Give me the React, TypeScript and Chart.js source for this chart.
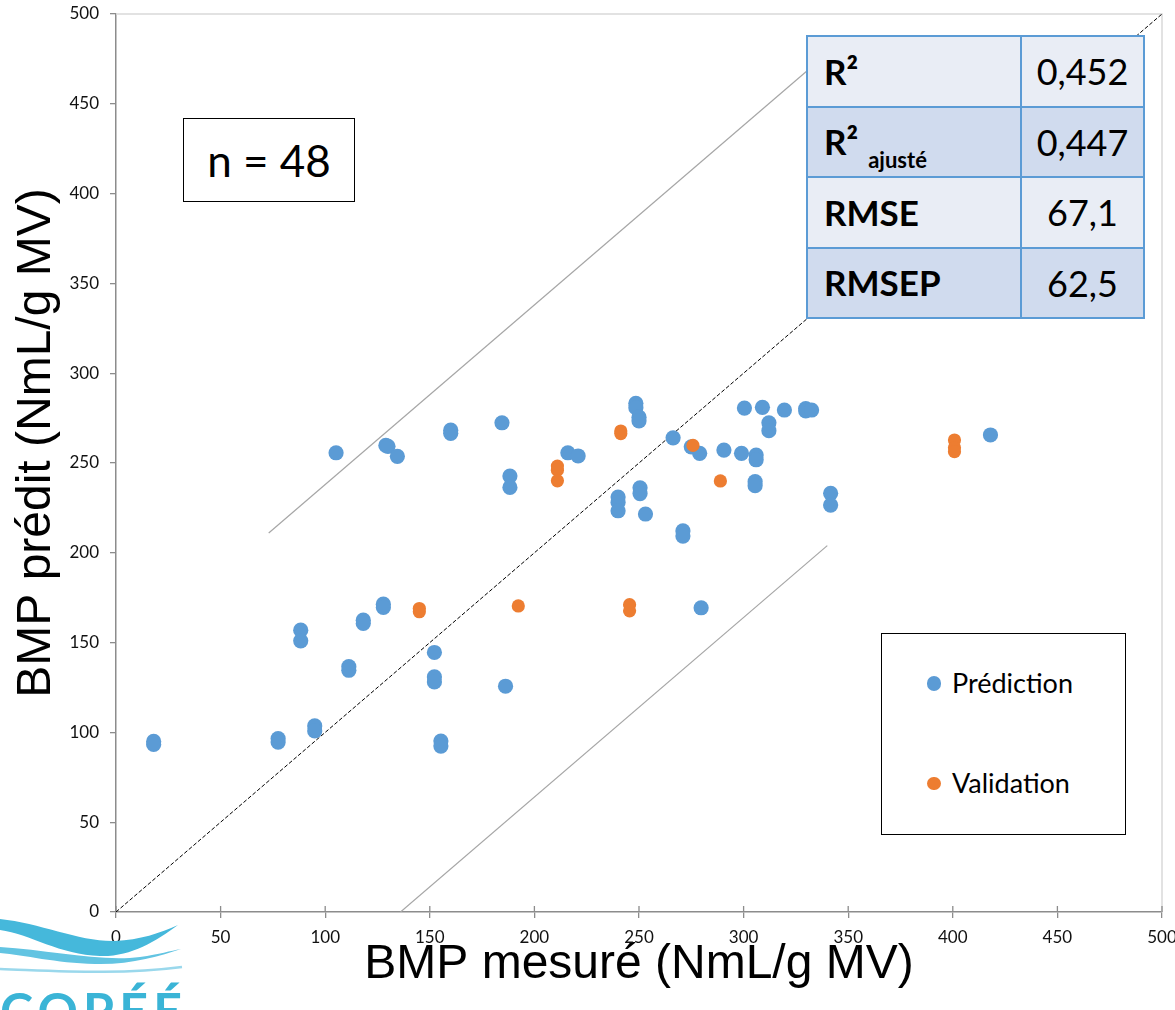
import React, { useEffect, useRef } from "react";
import { Chart, registerables } from "chart.js";

Chart.register(...registerables);

// ---------- data ----------
const xTitle = "BMP mesuré (NmL/g MV)";
const yTitle = "BMP prédit (NmL/g MV)";
const axisMin = 0;
const axisMax = 500;
const axisStep = 50;

const predictionLabel = "Prédiction";
const predictionX = [
  18, 18, 77.5, 77.5, 95, 95, 111.3, 111.3, 88.3, 88.3, 118.2, 118.2, 127.8, 127.8,
  152.2, 152.2, 152.2, 105.2, 129, 130, 134.5, 155.3, 155.3, 160, 160, 184.5, 188.3,
  188.3, 186.2, 216, 220.9, 240, 240, 240, 248.5, 248.5, 250, 250, 266.3, 275, 279,
  290.6, 299, 306, 306, 300.4, 309, 312.1, 312.1, 319.5, 329.7, 329.7, 332.5, 305.5,
  305.5, 250.5, 250.5, 253.1, 271, 271, 279.7, 418, 341.6, 341.6,
];
const predictionY = [
  95, 93.3, 96.6, 94.6, 103.6, 100.8, 136.6, 134.6, 156.9, 151, 162.5, 160.7, 171.4, 169.6,
  144.5, 130.9, 128.1, 255.7, 259.8, 259.3, 253.7, 95.2, 92.4, 268.3, 266.5, 272.4, 242.7,
  236.4, 125.7, 255.7, 253.9, 231, 228, 223.4, 283.2, 280.8, 275.5, 273.5, 264, 259, 255.4,
  257.2, 255.4, 254.4, 251.8, 280.6, 281, 272.4, 268, 279.5, 280.3, 279, 279.5, 239.6,
  237.4, 236.2, 233, 221.6, 212.2, 209.3, 169.4, 265.6, 233.1, 226.6,
];

const validationLabel = "Validation";
const validationX = [145, 145, 192.3, 211, 211, 211, 241.3, 241.3, 275.8, 245.5, 245.5, 288.9, 400.8, 400.8, 400.8];
const validationY = [169, 167.2, 170.4, 248.3, 246, 240.1, 267.8, 266.4, 259.8, 171.1, 167.7, 240, 262.8, 258.5, 256.3];

const identityX = [0, 500];
const identityY = [0, 500];
const upperBandX = [73, 340];
const upperBandY = [211, 478];
const lowerBandX = [136, 340];
const lowerBandY = [0, 204];

const statNames = ["R²", "R²", "RMSE", "RMSEP"];
const statSubscripts = ["", "ajusté", "", ""];
const statValues = ["0,452", "0,447", "67,1", "62,5"];
const sampleCount = 48;

// ---------- helpers ----------
const toPoints = (xs: number[], ys: number[]) => xs.map((x, i) => ({ x, y: ys[i] }));

const BLUE = "#5B9BD5";
const ORANGE = "#ED7D31";
const AXIS_GREY = "#8c8c8c";

const framePlugin = {
  id: "frame",
  beforeDatasetsDraw(chart: any) {
    const { ctx, chartArea } = chart;
    const { left, right, top, bottom } = chartArea;
    ctx.save();
    ctx.strokeStyle = "#d9d9d9";
    ctx.lineWidth = 1.5;
    ctx.beginPath();
    ctx.moveTo(left, top);
    ctx.lineTo(right, top);
    ctx.lineTo(right, bottom);
    ctx.stroke();
    // inner half of the crossing x tick marks
    const xs = chart.scales.x;
    ctx.strokeStyle = AXIS_GREY;
    ctx.lineWidth = 1.3;
    ctx.beginPath();
    xs.ticks.forEach((t: any) => {
      const px = xs.getPixelForValue(t.value);
      ctx.moveTo(px, bottom);
      ctx.lineTo(px, bottom - 6);
    });
    ctx.stroke();
    ctx.restore();
  },
  afterDraw(chart: any) {
    const { ctx } = chart;
    ctx.save();
    ctx.translate(37, 443);
    ctx.rotate(-Math.PI / 2);
    ctx.font = '48px "Liberation Sans"';
    ctx.fillStyle = "#000";
    ctx.textAlign = "center";
    ctx.textBaseline = "middle";
    ctx.fillText(yTitle, 0, 0);
    ctx.restore();
  },
};

function Logo() {
  return (
    <svg
      width={190}
      height={105}
      viewBox="0 0 190 105"
      style={{ position: "absolute", left: 0, top: 905, overflow: "hidden" }}
    >
      <path
        d="M0,14 C40,18 80,37 115,36 C140,35 160,28 178,20 C155,37 130,52 100,51 C60,50 30,29 0,25 Z"
        fill="#45b8db"
      />
      <path
        d="M0,42 C50,45 100,57 140,52 C160,49 170,46 181,44 C160,51 130,60 95,59 C55,58 25,50 0,48 Z"
        fill="#62c4e2"
      />
      <path d="M0,64 C60,66 120,70 182,62" stroke="#9ad8ec" strokeWidth={2.5} fill="none" />
      <text
        x={0}
        y={124}
        fontFamily="Lato"
        fontWeight="bold"
        fontSize={50}
        fill="#3ab4d6"
        textLength={182}
        lengthAdjust="spacing"
      >
        COPÉÉ
      </text>
    </svg>
  );
}

export default function App() {
  const canvasRef = useRef<HTMLCanvasElement | null>(null);

  useEffect(() => {
    document.body.style.margin = "0";
    const canvas = canvasRef.current;
    if (!canvas) return;
    const tickFont = { family: "Lato", size: 17 };
    const titleFont = { family: "Liberation Sans", size: 48, weight: "normal" as const };
    const chart = new Chart(canvas, {
      type: "scatter",
      data: {
        datasets: [
          {
            label: validationLabel,
            data: toPoints(validationX, validationY),
            backgroundColor: ORANGE,
            borderWidth: 0,
            pointRadius: 6.6,
            order: 0,
          },
          {
            label: predictionLabel,
            data: toPoints(predictionX, predictionY),
            backgroundColor: BLUE,
            borderWidth: 0,
            pointRadius: 7.6,
            order: 1,
          },
          {
            label: "1:1",
            data: toPoints(identityX, identityY),
            showLine: true,
            borderColor: "#000",
            borderWidth: 1,
            borderDash: [4, 2],
            pointRadius: 0,
            order: 2,
          },
          {
            label: "upper",
            data: toPoints(upperBandX, upperBandY),
            showLine: true,
            borderColor: "#a6a6a6",
            borderWidth: 1.2,
            pointRadius: 0,
            order: 2,
          },
          {
            label: "lower",
            data: toPoints(lowerBandX, lowerBandY),
            showLine: true,
            borderColor: "#a6a6a6",
            borderWidth: 1.2,
            pointRadius: 0,
            order: 2,
          },
        ],
      },
      options: {
        animation: false,
        responsive: false,
        events: [],
        layout: { padding: { top: 14, right: 13, bottom: 0, left: 0 } },
        plugins: { legend: { display: false }, tooltip: { enabled: false } },
        scales: {
          x: {
            type: "linear",
            min: axisMin,
            max: axisMax,
            ticks: { stepSize: axisStep, font: tickFont, color: "#111", padding: 9, maxRotation: 0 },
            grid: { drawOnChartArea: false, drawTicks: true, tickLength: 6, color: AXIS_GREY, lineWidth: 1.3 },
            border: { color: AXIS_GREY, width: 1.5 },
            title: { display: true, text: xTitle, font: titleFont, color: "#000", padding: { top: 0, bottom: 16 } },
            afterFit: (s: any) => {
              s.height = 98;
              s.paddingLeft = 0;
              s.paddingRight = 0;
            },
          },
          y: {
            type: "linear",
            min: axisMin,
            max: axisMax,
            ticks: { stepSize: axisStep, font: tickFont, color: "#111", padding: 11 },
            grid: { drawOnChartArea: false, drawTicks: true, tickLength: 6, color: AXIS_GREY, lineWidth: 1.3 },
            border: { color: AXIS_GREY, width: 1.5 },
            title: { display: false, text: yTitle },
            afterFit: (s: any) => {
              s.width = 116;
              s.paddingTop = 0;
              s.paddingBottom = 0;
            },
          },
        },
      },
      plugins: [framePlugin],
    });
    return () => chart.destroy();
  }, []);

  const rowBg = ["#e9edf5", "#d0dbee", "#e9edf5", "#d0dbee"];

  return (
    <div
      style={{
        position: "relative",
        width: 1175,
        height: 1010,
        overflow: "hidden",
        background: "#fff",
        fontFamily: "Lato, sans-serif",
        color: "#000",
      }}
    >
      <canvas ref={canvasRef} width={1175} height={1010} style={{ position: "absolute", left: 0, top: 0 }} />
      <Logo />

      {/* n box */}
      <div
        style={{
          position: "absolute",
          left: 183,
          top: 118,
          width: 172,
          height: 84,
          boxSizing: "border-box",
          border: "1.5px solid #000",
          background: "#fff",
          display: "flex",
          alignItems: "center",
          justifyContent: "center",
          fontSize: 44,
        }}
      >
        n = {sampleCount}
      </div>

      {/* stats table */}
      <table
        style={{
          position: "absolute",
          left: 806,
          top: 35,
          width: 337,
          height: 282,
          borderCollapse: "collapse",
          tableLayout: "fixed",
        }}
      >
        <colgroup>
          <col style={{ width: 214 }} />
          <col style={{ width: 123 }} />
        </colgroup>
        <tbody>
          {statNames.map((name, i) => (
            <tr key={i} style={{ height: 70.5, background: rowBg[i] }}>
              <td
                style={{
                  border: "2px solid #5b9bd5",
                  padding: "0 0 0 16px",
                  fontWeight: 700,
                  fontSize: 35,
                  whiteSpace: "nowrap",
                  lineHeight: 1,
                }}
              >
                {name}
                {statSubscripts[i] ? (
                  <span style={{ fontSize: 22, position: "relative", top: 13, marginLeft: 10 }}>
                    {statSubscripts[i]}
                  </span>
                ) : null}
              </td>
              <td
                style={{
                  border: "2px solid #5b9bd5",
                  padding: 0,
                  textAlign: "center",
                  fontSize: 36,
                  lineHeight: 1,
                }}
              >
                {statValues[i]}
              </td>
            </tr>
          ))}
        </tbody>
      </table>

      {/* legend */}
      <div
        style={{
          position: "absolute",
          left: 881,
          top: 633,
          width: 245,
          height: 202,
          boxSizing: "border-box",
          border: "1.5px solid #000",
          background: "#fff",
        }}
      />
      <div
        style={{
          position: "absolute",
          left: 934 - 7.3,
          top: 683.5 - 7.3,
          width: 14.6,
          height: 14.6,
          borderRadius: "50%",
          background: BLUE,
        }}
      />
      <div style={{ position: "absolute", left: 952, top: 669, fontSize: 27, lineHeight: "27px" }}>
        {predictionLabel}
      </div>
      <div
        style={{
          position: "absolute",
          left: 934 - 6.6,
          top: 783.5 - 6.6,
          width: 13.2,
          height: 13.2,
          borderRadius: "50%",
          background: ORANGE,
        }}
      />
      <div style={{ position: "absolute", left: 952, top: 769, fontSize: 27, lineHeight: "27px" }}>
        {validationLabel}
      </div>
    </div>
  );
}
